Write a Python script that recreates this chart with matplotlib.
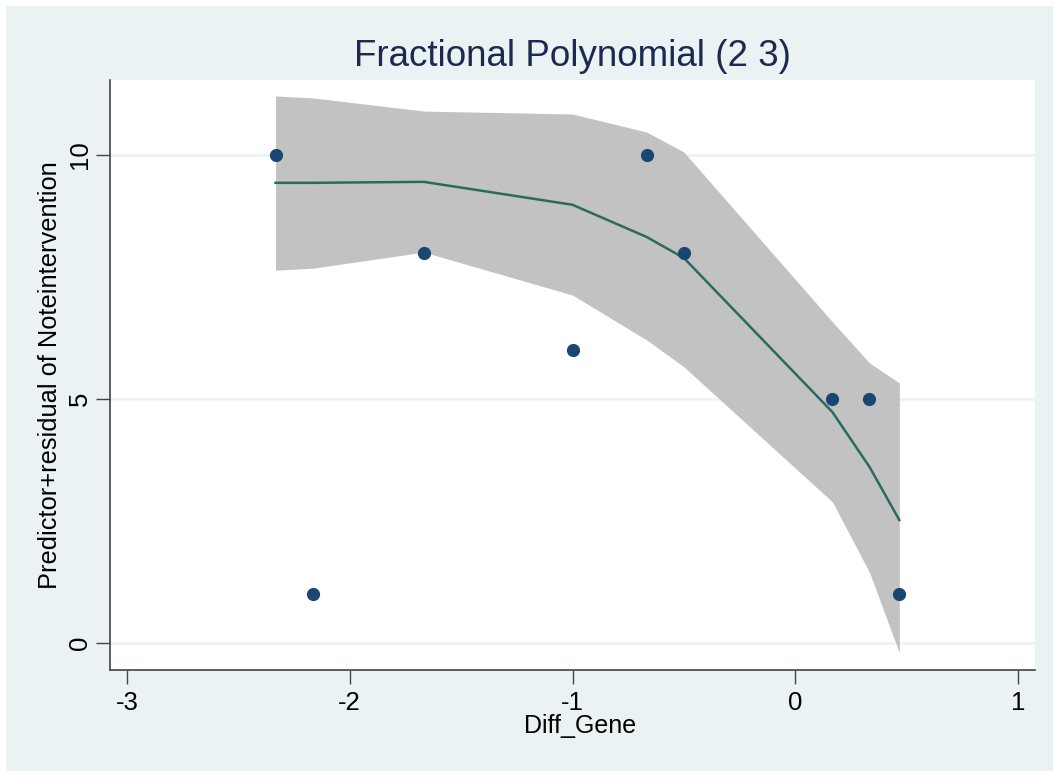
import matplotlib
matplotlib.use("Agg")
import matplotlib.pyplot as plt
from matplotlib.patches import Rectangle

plt.rcParams["font.family"] = ["Liberation Sans", "DejaVu Sans"]
plt.rcParams["axes.unicode_minus"] = False

# Observed points: Diff_Gene vs predictor+residual
x_obs = [-2.333, -2.167, -1.667, -1.0, -0.667, -0.5, 0.167, 0.333, 0.467]
y_obs = [10, 1, 8, 6, 10, 8, 5, 5, 1]

# Fractional polynomial (2 3) fit with confidence band
x_fit = [-2.333, -2.167, -1.667, -1.0, -0.667, -0.5, 0.167, 0.333, 0.467]
y_fit = [9.43, 9.43, 9.45, 8.98, 8.32, 7.89, 4.73, 3.61, 2.52]
ci_upper = [11.21, 11.17, 10.90, 10.84, 10.47, 10.06, 6.58, 5.74, 5.33]
ci_lower = [7.64, 7.68, 8.01, 7.13, 6.21, 5.66, 2.89, 1.45, -0.20]

x_ticks = [-3, -2, -1, 0, 1]
y_ticks = [0, 5, 10]

BG = "#eaf2f3"
W, H = 1053, 771
fig = plt.figure(figsize=(W / 100, H / 100), dpi=100)
fig.patch.set_facecolor("white")
fig.patches.append(Rectangle((6 / W, -0.01), 1.01 - 6 / W, 1.01 - 6 / H,
                             transform=fig.transFigure, facecolor=BG,
                             edgecolor="none", zorder=-10))

ax = fig.add_axes([110 / W, (H - 670) / H, (1035 - 110) / W, (670 - 80) / H])
ax.set_facecolor("white")

ax.fill_between(x_fit, ci_lower, ci_upper, color="#c2c2c2", linewidth=0, zorder=2)
ax.plot(x_fit, y_fit, color="#2a6b60", linewidth=1.8, zorder=3)
ax.plot(x_obs, y_obs, "o", color="#1a4672", markersize=9.5, markeredgewidth=0, zorder=4)

ax.set_xlim(-3.076, 1.076)
ax.set_ylim(-0.553, 11.537)
ax.set_xticks(x_ticks)
ax.set_yticks(y_ticks)
ax.grid(axis="y", color=BG, linewidth=1.8, zorder=1)
ax.set_axisbelow(True)

for s in ["top", "right"]:
    ax.spines[s].set_visible(False)
for s in ["left", "bottom"]:
    ax.spines[s].set_color("#444444")
    ax.spines[s].set_linewidth(1.2)

ax.tick_params(axis="both", direction="out", length=10, width=1.0,
               color="#444444", labelsize=18.5)
ax.tick_params(axis="x", pad=5)
ax.tick_params(axis="y", pad=3)
for lab in ax.get_yticklabels():
    lab.set_rotation(90)
    lab.set_va("center")

ax.set_xlabel("Diff_Gene", fontsize=18, labelpad=0)
ax.xaxis.set_label_coords(0.508, -0.075)
ax.set_ylabel("Predictor+residual of Noteintervention", fontsize=18.3, labelpad=4)
ax.set_title("Fractional Polynomial (2 3)", fontsize=26.5, color="#1c2a50", pad=10)

fig.savefig("out.png", dpi=100, facecolor=fig.get_facecolor())
